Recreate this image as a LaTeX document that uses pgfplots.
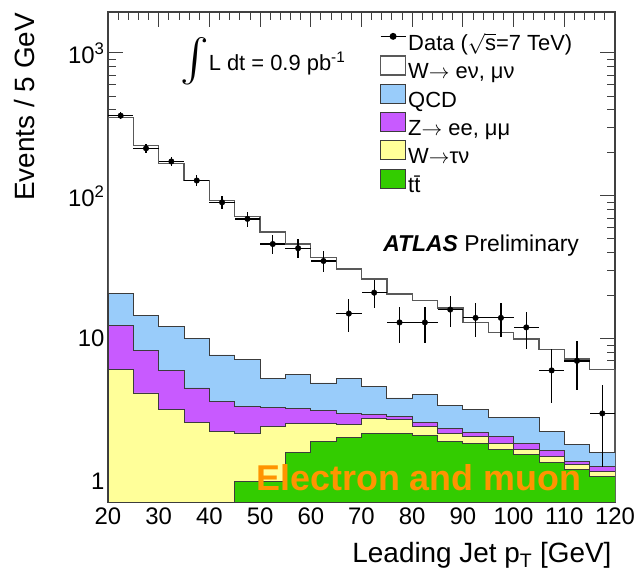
\documentclass[border=0pt]{standalone}
\usepackage{fontspec}
\setmainfont{Liberation Sans}
\usepackage{graphicx}
\usepackage{pgfplots}
\usepackage{pgfplotstable}
\pgfplotsset{compat=1.18}
\definecolor{qcdBlue}{HTML}{99CCFA}
\definecolor{zPurple}{HTML}{C85AFF}
\definecolor{tauYellow}{HTML}{FFFF99}
\definecolor{ttGreen}{HTML}{33CC00}
\definecolor{lblOrange}{HTML}{FF9400}
\definecolor{edgeGray}{HTML}{3C3C3C}
\newcommand{\arr}{\ensuremath{\rightarrow}}

% cumulative stack tops, bin left edges (last row closes the 115-120 bin)
\pgfplotstableread{
x   w     qcd   z     wtau  tt
20  355   20.6  12.4  6.1   0.01
25  225   14.5  8.3   4.17  0.01
30  169   12.2  6.0   3.19  0.01
35  128   10.1  4.52  2.6   0.01
40  92.7  7.7   3.64  2.25  0.01
45  72    7.2   3.36  2.19  1.0
50  55.7  5.27  3.31  2.44  1.0
55  46    5.63  3.27  2.54  1.59
60  37    4.9   3.14  2.57  1.91
65  30.7  5.3   3.0   2.52  2.03
70  26.2  4.64  2.94  2.76  2.17
75  20.6  3.85  2.86  2.71  2.17
80  18.5  4.1   2.6   2.44  2.1
85  16.4  3.4   2.37  2.17  1.91
90  13    3.22  2.21  2.07  1.84
95  11    2.82  2.07  1.86  1.67
100 9.95  2.82  1.84  1.67  1.54
105 8.4   2.25  1.66  1.5   1.36
110 7.2   1.81  1.38  1.31  1.21
115 6.07  1.59  1.27  1.18  1.09
120 6.07  1.59  1.27  1.18  1.09
}\stack

\pgfplotstableread{
x     n    ex   ey
22.5  364  2.5  19.08
27.5  215  2.5  14.66
32.5  174  2.5  13.19
37.5  128  2.5  11.31
42.5  90   2.5  9.49
47.5  69   2.5  8.31
52.5  46   2.5  6.78
57.5  43   2.5  6.56
62.5  35   2.5  5.92
67.5  15   2.5  3.87
72.5  21   2.5  4.58
77.5  13   2.5  3.61
82.5  13   2.5  3.61
87.5  16   2.5  4.00
92.5  14   2.5  3.74
97.5  14   2.5  3.74
102.5 12   2.5  3.46
107.5 6    2.5  2.45
112.5 7    2.5  2.65
117.5 3    2.5  1.73
}\data

\pgfplotsset{boxlegend/.style={legend image code/.code={\draw[##1] (0bp,-3bp) rectangle (25bp,16bp);}}}

\begin{document}
\begin{tikzpicture}
\begin{axis}[
  at={(108bp,74bp)}, anchor=south west, scale only axis, width=507bp, height=490bp,
  ymode=log, log origin=infty,
  xmin=20, xmax=120, ymin=0.72, ymax=1935,
  xtick={20,30,...,120}, minor x tick num=4,
  ytick={1,10,100,1000}, yticklabels={1,10,10\textsuperscript{2},10\textsuperscript{3}},
  minor ytick={0.8,0.9,2,3,4,5,6,7,8,9,20,30,40,50,60,70,80,90,200,300,400,500,600,700,800,900},
  /pgf/number format/assume math mode=true,
  tick align=inside, major tick length=15bp, minor tick length=8bp,
  tick style={line width=0.9bp, black!75},
  axis line style={line width=1.2bp, black!75},
  tick label style={font=\fontsize{24}{28}\selectfont},
  xticklabel style={yshift=-2bp},
  xlabel={Leading Jet p\textsubscript{T} [GeV]}, ylabel={Events / 5 GeV},
  label style={font=\fontsize{28}{32}\selectfont},
  xlabel style={at={(axis description cs:1,-0.108)}, anchor=east},
  ylabel style={at={(axis description cs:-0.164,1.005)}, anchor=east},
  legend style={at={(axis description cs:0.536,0.962)}, anchor=north west, draw=none, fill=none,
    font=\fontsize{22}{26}\selectfont, row sep=1.5bp, inner sep=0pt},
  legend cell align=left,
]
\addlegendimage{black, line width=1.3bp, legend image code/.code={\draw[black, line width=1.3bp] (0bp,6bp) -- (25bp,6bp); \fill[black] (12.5bp,6bp) circle (2.8bp);}}
\addlegendentry{Data (\ensuremath{\sqrt{\mbox{s}}}=7 TeV)}

\addplot[const plot, fill=white, draw=black!65, line width=1.3bp, boxlegend] table[x=x, y=w] {\stack} \closedcycle;
\addlegendentry{W\arr\ eν, μν}
\addplot[const plot, fill=qcdBlue, draw=edgeGray, line width=0.9bp, boxlegend] table[x=x, y=qcd] {\stack} \closedcycle;
\addlegendentry{QCD}
\addplot[const plot, fill=zPurple, draw=edgeGray, line width=0.9bp, boxlegend] table[x=x, y=z] {\stack} \closedcycle;
\addlegendentry{Z\arr\ ee, μμ}
\addplot[const plot, fill=tauYellow, draw=edgeGray, line width=0.9bp, boxlegend] table[x=x, y=wtau] {\stack} \closedcycle;
\addlegendentry{W\arr τν}
\addplot[const plot, fill=ttGreen, draw=edgeGray, line width=0.9bp, boxlegend] table[x=x, y=tt] {\stack} \closedcycle;
\addlegendentry{t\={t}}

\addplot[forget plot, only marks, mark=*, mark size=2.8bp, black,
  error bars/.cd, x dir=both, x explicit, y dir=both, y explicit,
  error bar style={line width=1.3bp, black}, error mark=none]
  table[x=x, y=n, x error=ex, y error=ey] {\data};

\node[anchor=west, font=\fontsize{22}{26}\selectfont, inner sep=0pt] at (axis description cs:0.142,0.9) {\raisebox{-13bp}{\resizebox{!}{46bp}{$\int$}}L dt = 0.9 pb\textsuperscript{-1}};
\node[anchor=west, font=\fontsize{23}{27}\selectfont] at (axis description cs:0.536,0.524) {\textbf{\textit{ATLAS}} Preliminary};
\node[anchor=west, font=\fontsize{36}{40}\selectfont\bfseries, text=lblOrange] at (axis description cs:0.286,0.049) {Electron and muon};
\end{axis}
\pgfresetboundingbox
\useasboundingbox (0,0) rectangle (636bp,576bp);
\end{tikzpicture}
\end{document}
